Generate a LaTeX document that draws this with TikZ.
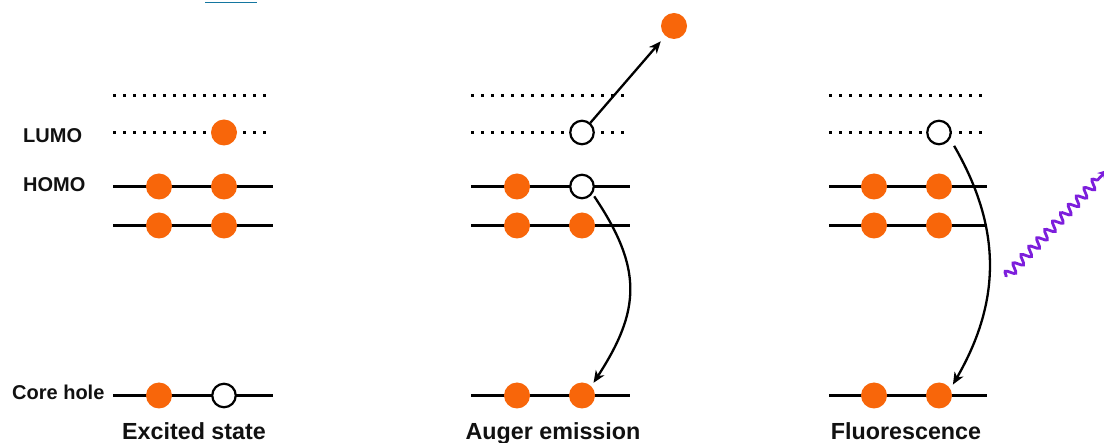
\documentclass[tikz,border=0pt]{standalone}
\usepackage{fontspec}
\setmainfont{Liberation Sans}
\usetikzlibrary{arrows.meta,decorations.pathmorphing}
\definecolor{eorange}{RGB}{248,102,10}
\definecolor{phot}{RGB}{125,30,220}
\definecolor{linkblue}{RGB}{20,118,160}
\definecolor{txt}{RGB}{17,17,17}
\begin{document}
\begin{tikzpicture}[x=1pt,y=1pt,
  lvl/.style={line width=3.2pt},
  dlvl/.style={line width=3pt, dash pattern=on 3pt off 7pt},
  el/.style={circle, fill=eorange, minimum size=26pt, inner sep=0pt},
  hole/.style={circle, draw=black, line width=2.2pt, fill=white, minimum size=23.5pt, inner sep=0pt},
  arr/.style={line width=2.3pt, -{Stealth[length=12pt,width=10pt,inset=3.5pt]}},
  lab/.style={font=\bfseries\fontsize{20}{24}\selectfont, text=txt, anchor=base west, inner sep=0pt},
  ttl/.style={font=\bfseries\fontsize{23.3}{27}\selectfont, text=txt, anchor=base, inner sep=0pt}]
\useasboundingbox (0,0) rectangle (1104,-443);
\fill[white] (0,0) rectangle (1104,-443);

% remnant of link underline at the top edge
\draw[linkblue, line width=1.6pt] (205,-2.5) -- (257,-2.5);

% ---- energy levels ----
\foreach \xa/\xb in {113/273, 471/630, 829/987}{
  \draw[dlvl] (\xa,-96) -- (\xb,-96);
  \draw[dlvl] (\xa,-132.5) -- (\xb,-132.5);
  \draw[lvl] (\xa,-186.5) -- (\xb,-186.5);
  \draw[lvl] (\xa,-225.5) -- (\xb,-225.5);
  \draw[lvl] (\xa,-395.5) -- (\xb,-395.5);
}

% ---- labels ----
\node[lab] (lumo) at (23,-143) {LUMO};
\node[lab] (homo) at (23,-192) {HOMO};
\node[lab] (core) at (12,-400) {Core hole};

% ---- column 1: excited state ----
\node[el] (l1b) at (224,-132.5) {};
\node[el] (h1a) at (159,-186.5) {};
\node[el] (h1b) at (224,-186.5) {};
\node[el] (s1a) at (159,-225.5) {};
\node[el] (s1b) at (224,-225.5) {};
\node[el] (c1a) at (159,-395.5) {};
\node[hole] (c1b) at (224,-395.5) {};

% ---- column 2: Auger emission ----
\node[hole] (l2b) at (582,-132.5) {};
\node[el] (h2a) at (517,-186.5) {};
\node[hole] (h2b) at (582,-186.5) {};
\node[el] (s2a) at (517,-225.5) {};
\node[el] (s2b) at (582,-225.5) {};
\node[el] (c2a) at (517,-395.5) {};
\node[el] (c2b) at (582,-395.5) {};
\node[el] (e2) at (674,-26) {};

\draw[arr, shorten >=7pt] (l2b) -- (e2);
\draw[arr, shorten <=3pt, shorten >=4pt] (h2b.-35) to[out=-56,in=57,looseness=1.2] (c2b.45);

% ---- column 3: fluorescence ----
\node[hole] (l3b) at (939,-132.5) {};
\node[el] (h3a) at (874,-186.5) {};
\node[el] (h3b) at (939,-186.5) {};
\node[el] (s3a) at (874,-225.5) {};
\node[el] (s3b) at (939,-225.5) {};
\node[el] (c3a) at (874,-395.5) {};
\node[el] (c3b) at (939,-395.5) {};

\draw[arr, shorten <=8pt, shorten >=5pt] (l3b.-30) to[out=-60,in=60,looseness=1.05] (c3b.30);

% photon
\coordinate (p0) at (1006,-277);
\coordinate (p1) at (1107,-170);
\draw[phot, line width=2.8pt, decorate,
  decoration={snake, amplitude=4.5pt, segment length=11.5pt, post length=8pt},
  -{Stealth[length=9pt,width=10pt]}] (p0) -- (p1);

% ---- titles ----
\node[ttl] (t1) at (194,-440) {Excited state};
\node[ttl] (t2) at (553,-440) {Auger emission};
\node[ttl] (t3) at (906,-440) {Fluorescence};
\end{tikzpicture}
\end{document}
